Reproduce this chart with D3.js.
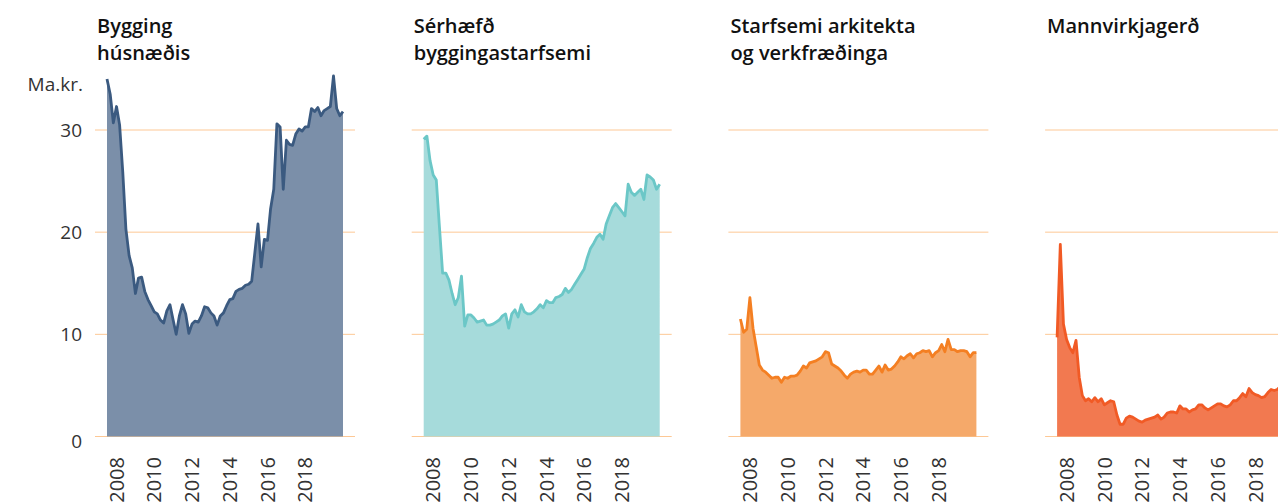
<!DOCTYPE html>
<html>
<head>
<meta charset="utf-8">
<script src="https://cdn.jsdelivr.net/npm/d3@7/dist/d3.min.js"></script>
<style>
    body { margin: 0; background: #fff; overflow: hidden; }
    text { font-family: "Open Sans", sans-serif; }
</style>
</head>
<body>
<div id="chart"></div>
<script>
// panel titles (two lines where the reference breaks them)
const titles = [
    ["Bygging", "húsnæðis"],
    ["Sérhæfð", "byggingastarfsemi"],
    ["Starfsemi arkitekta", "og verkfræðinga"],
    ["Mannvirkjagerð"]
];
const yTicks = [0, 10, 20, 30];
const yearTicks = [2008, 2010, 2012, 2014, 2016, 2018];
const unitLabel = "Ma.kr.";

// bimonthly values, first period Jul 2007
const bygging = [35.0, 33.5, 30.7, 32.3, 30.5, 25.9, 20.3, 17.7, 16.5, 14.0, 15.5, 15.6, 14.2, 13.4, 12.8, 12.2,
    12.0, 11.4, 11.1, 12.3, 12.9, 11.4, 10.0, 11.8, 12.9, 12.0, 10.1, 11.0, 11.3, 11.2, 11.8, 12.7,
    12.6, 12.1, 11.8, 10.9, 11.8, 12.1, 12.8, 13.4, 13.5, 14.2, 14.4, 14.5, 14.8, 14.9, 15.2, 18.0,
    20.8, 16.6, 19.3, 19.2, 22.3, 24.2, 30.6, 30.3, 24.2, 29.0, 28.6, 28.5, 29.6, 30.1, 29.9, 30.3,
    30.3, 32.1, 31.8, 32.2, 31.4, 31.9, 32.1, 32.3, 35.3, 32.1, 31.4, 31.8];
const serhaefd = [29.1, 29.4, 27.0, 25.6, 25.1, 20.5, 16.0, 16.0, 15.3, 14.0, 12.9, 13.6, 15.7, 10.8, 11.9, 11.9,
    11.6, 11.2, 11.3, 11.4, 10.9, 10.9, 11.0, 11.2, 11.4, 11.8, 12.0, 10.6, 12.0, 12.4, 11.7, 12.9,
    12.2, 12.0, 12.0, 12.2, 12.5, 12.9, 12.6, 13.3, 13.1, 13.1, 13.6, 13.7, 13.9, 14.5, 14.1, 14.4,
    14.9, 15.4, 15.9, 16.4, 17.5, 18.4, 18.9, 19.5, 19.8, 19.3, 20.8, 21.6, 22.4, 22.8, 22.4, 22.0,
    21.6, 24.7, 23.9, 23.6, 23.9, 24.2, 23.2, 25.6, 25.4, 25.1, 24.2, 24.7];
const arkitekta = [11.5, 10.2, 10.5, 13.6, 10.6, 8.8, 7.0, 6.5, 6.3, 6.0, 5.7, 5.8, 5.8, 5.3, 5.8, 5.7,
    5.9, 5.9, 6.0, 6.4, 6.9, 6.7, 7.2, 7.3, 7.4, 7.6, 7.8, 8.3, 8.2, 7.1, 6.9, 6.7,
    6.4, 6.0, 5.7, 6.1, 6.3, 6.4, 6.3, 6.5, 6.5, 6.1, 6.1, 6.5, 6.9, 6.3, 7.0, 6.5,
    6.6, 6.9, 7.3, 7.8, 7.6, 7.9, 8.1, 7.7, 8.1, 8.2, 8.4, 8.3, 8.4, 7.8, 8.2, 8.4,
    9.0, 8.3, 9.5, 8.5, 8.5, 8.3, 8.4, 8.4, 8.3, 7.8, 8.2, 8.2];
const mannvirkja = [9.7, 18.8, 11.0, 9.5, 8.7, 8.2, 9.4, 5.8, 4.0, 3.5, 3.7, 3.4, 3.8, 3.4, 3.7, 3.1,
    3.3, 3.5, 3.4, 2.1, 1.2, 1.2, 1.8, 2.0, 1.9, 1.7, 1.5, 1.4, 1.6, 1.7, 1.8, 1.9,
    2.1, 1.7, 1.9, 2.3, 2.4, 2.4, 2.3, 3.0, 2.7, 2.7, 2.4, 2.6, 2.7, 3.1, 3.1, 2.8,
    2.6, 2.8, 3.0, 3.2, 3.2, 3.0, 2.9, 3.1, 3.5, 3.5, 3.8, 4.2, 3.9, 4.7, 4.3, 4.1,
    4.0, 3.8, 3.9, 4.3, 4.6, 4.5, 4.6, 4.9, 5.1, 4.8, 5.0, 5.2];

const seriesList = [bygging, serhaefd, arkitekta, mannvirkja];
const lineColors = ["#3b5a80", "#6bc7c7", "#f47f22", "#f15a25"];
const fillColors = ["#7b8fa9", "#a6dbdb", "#f5a96a", "#f27950"];

const width = 1278, height = 504;
const startDate = new Date(2007, 6, 1);

const svg = d3.select("#chart").append("svg")
    .attr("width", width)
    .attr("height", height);

// shared y scale
const y = d3.scaleLinear().domain([0, 30]).range([436.5, 130]);

const panelStep = 316.7, panelWidth = 260, firstPanel = 95;

seriesList.forEach((values, p) => {
    let x0 = firstPanel + p * panelStep;
    let dates = values.map((v, i) => d3.timeMonth.offset(startDate, 2 * i));
    let data = values.map((v, i) => ({date: dates[i], value: v}));

    let x = d3.scaleTime()
        .domain([dates[0], dates[dates.length - 1]])
        .range([x0 + 12, x0 + panelWidth - 12]);

    let g = svg.append("g");

    // gridlines
    g.selectAll(".grid")
        .data(yTicks)
        .enter().append("line")
        .attr("x1", x0)
        .attr("x2", x0 + panelWidth)
        .attr("y1", d => y(d))
        .attr("y2", d => y(d))
        .attr("stroke", "#fdc895")
        .attr("stroke-width", 1);

    let area = d3.area()
        .x(d => x(d.date))
        .y0(y(0))
        .y1(d => y(d.value));
    let line = d3.line()
        .x(d => x(d.date))
        .y(d => y(d.value));

    g.append("path")
        .datum(data)
        .attr("d", area)
        .attr("fill", fillColors[p]);

    g.append("path")
        .datum(data)
        .attr("d", line)
        .attr("fill", "none")
        .attr("stroke", lineColors[p])
        .attr("stroke-width", 2.8)
        .attr("stroke-linejoin", "round");

    // year labels, rotated
    g.selectAll(".year")
        .data(yearTicks)
        .enter().append("text")
        .attr("transform", d => `translate(${x(new Date(d, 0, 1))},457) rotate(-90)`)
        .attr("text-anchor", "end")
        .attr("dy", "0.36em")
        .attr("font-size", 20)
        .attr("fill", "#333")
        .text(d => d);

    // title
    g.append("text")
        .attr("x", x0 + 2)
        .attr("y", 33)
        .attr("font-size", 20)
        .attr("font-weight", 600)
        .attr("fill", "#111")
        .selectAll("tspan")
        .data(titles[p])
        .enter().append("tspan")
        .attr("x", x0 + 2)
        .attr("dy", (d, i) => i === 0 ? 0 : 27)
        .text(d => d);
});

// y axis labels only on first panel
svg.selectAll(".ylab")
    .data(yTicks)
    .enter().append("text")
    .attr("x", 82)
    .attr("y", d => y(d) + (d === 0 ? 5 : 0))
    .attr("dy", "0.36em")
    .attr("text-anchor", "end")
    .attr("font-size", 19)
    .attr("fill", "#333")
    .text(d => d);

svg.append("text")
    .attr("x", 83)
    .attr("y", 91)
    .attr("text-anchor", "end")
    .attr("font-size", 19)
    .attr("fill", "#333")
    .text(unitLabel);
</script>
</body>
</html>
